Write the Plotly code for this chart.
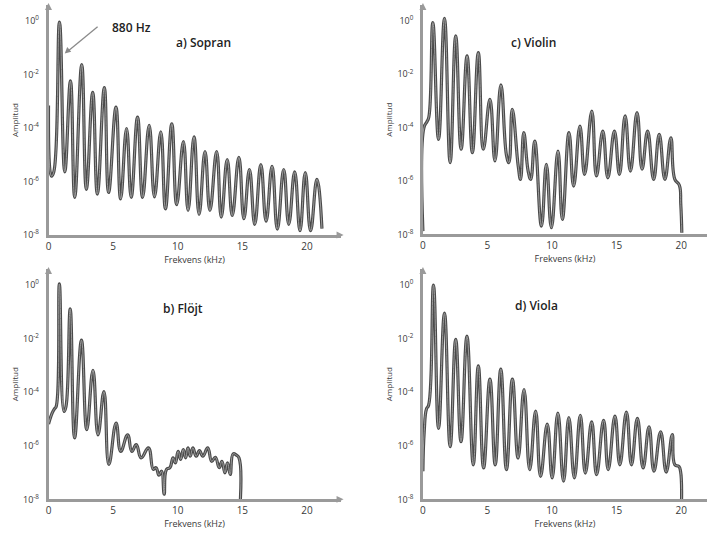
import plotly.graph_objects as go

# ---- data: frequency (kHz) and log10(amplitude) at peaks / troughs ----
sopran_khz = [0.00, 0.23, 0.41, 0.85, 1.26, 1.70, 2.03, 2.57, 2.93, 3.42, 3.78, 4.32, 4.65, 5.22, 5.58,
              6.04, 6.40, 6.89, 7.28, 7.79, 8.20, 8.69, 9.05, 9.54, 9.92, 10.44, 10.80, 11.26, 11.65,
              12.11, 12.49, 13.01, 13.37, 13.83, 14.22, 14.73, 15.12, 15.55, 15.96, 16.43, 16.84,
              17.30, 17.71, 18.20, 18.59, 19.05, 19.46, 19.87, 20.28, 20.77, 21.16]
sopran_log = [-3.16, -5.80, -5.64, -0.04, -5.64, -2.24, -6.59, -1.63, -6.29, -2.67, -6.47, -2.49, -6.41,
              -3.22, -6.65, -4.02, -6.59, -3.59, -6.59, -3.90, -6.57, -4.14, -7.02, -3.84, -6.86, -4.51,
              -7.08, -4.33, -7.23, -4.88, -7.08, -4.88, -7.33, -5.18, -7.27, -5.10, -7.39, -5.55, -7.60,
              -5.37, -7.48, -5.43, -7.78, -5.55, -7.60, -5.64, -7.84, -5.67, -7.84, -5.92, -7.76]

flojt_khz = [0.00, 0.28, 0.46, 0.59, 0.84, 1.20, 1.35, 1.68, 2.02, 2.55, 2.96, 3.44, 3.83, 4.29, 4.67,
             5.23, 5.59, 6.12, 6.45, 6.79, 7.17, 7.73, 8.11, 8.32, 8.55, 8.75, 8.95, 9.13, 9.39, 9.64,
             9.82, 10.03, 10.23, 10.43, 10.61, 10.79, 10.97, 11.17, 11.43, 11.68, 11.94, 12.32, 12.63,
             12.91, 13.21, 13.42, 13.65, 13.85, 14.06, 14.29, 14.54, 14.74, 14.85]
flojt_log = [-5.19, -4.78, -4.62, -4.54, 0.04, -4.72, -4.54, -0.89, -5.71, -2.06, -5.40, -3.18, -5.59,
             -3.98, -6.70, -5.15, -6.21, -5.59, -6.21, -5.96, -6.45, -6.08, -6.88, -6.82, -7.10, -6.95,
             -7.81, -6.88, -6.82, -6.45, -6.64, -6.21, -6.51, -6.14, -6.45, -6.08, -6.39, -6.08, -6.39,
             -6.18, -6.39, -6.08, -6.58, -6.43, -6.82, -6.58, -7.01, -6.64, -7.07, -6.30, -6.35, -6.45,
             -8.00]

violin_khz = [0.00, 0.08, 0.31, 0.46, 0.77, 1.21, 1.67, 2.11, 2.54, 2.96, 3.42, 3.83, 4.29, 4.68, 5.19,
              5.58, 6.04, 6.48, 6.66, 6.92, 7.38, 7.56, 7.81, 8.15, 8.35, 8.66, 9.18, 9.56, 9.95, 10.46,
              10.80, 11.31, 11.67, 12.16, 12.52, 13.08, 13.44, 13.93, 14.32, 14.83, 15.22, 15.66, 16.07,
              16.58, 16.97, 17.40, 17.87, 18.30, 18.74, 19.20, 19.51, 19.85, 19.97, 20.05]
violin_log = [-7.88, -4.00, -3.78, -3.60, -0.06, -4.44, 0.10, -5.31, -0.56, -4.81, -1.31, -4.94, -1.19,
              -4.81, -2.94, -5.25, -2.40, -5.06, -5.31, -3.31, -5.44, -5.94, -4.19, -5.63, -5.94, -4.50,
              -7.69, -5.38, -7.75, -4.88, -7.44, -4.19, -6.19, -3.94, -5.75, -3.38, -5.81, -4.13, -5.88,
              -4.13, -5.75, -3.56, -5.63, -3.44, -5.56, -4.13, -5.94, -4.25, -5.94, -4.38, -5.94, -6.15,
              -6.88, -7.94]

viola_khz = [0.00, 0.10, 0.28, 0.44, 0.82, 1.21, 1.67, 2.11, 2.54, 2.95, 3.41, 3.90, 4.29, 4.70, 5.19,
             5.60, 6.03, 6.47, 6.93, 7.37, 7.83, 8.27, 8.73, 9.11, 9.63, 10.01, 10.45, 10.89, 11.30,
             11.73, 12.19, 12.58, 13.07, 13.45, 13.99, 14.35, 14.87, 15.25, 15.76, 16.15, 16.61, 17.05,
             17.51, 17.89, 18.41, 18.84, 19.31, 19.51, 19.82, 19.95, 20.03]
viola_log = [-6.95, -5.48, -4.62, -4.49, 0.00, -5.35, -1.05, -6.03, -2.03, -5.85, -1.91, -6.71, -3.02,
             -6.83, -3.51, -6.71, -3.14, -6.89, -3.51, -6.46, -3.90, -6.89, -4.71, -7.14, -5.19, -7.20,
             -4.78, -7.32, -4.95, -7.20, -4.86, -7.02, -5.11, -7.08, -5.05, -6.89, -4.89, -6.71, -4.74,
             -6.71, -4.98, -6.83, -5.29, -6.95, -5.48, -6.98, -5.58, -6.71, -6.77, -6.95, -8.00]

panel_titles = ["a) Sopran", "b) Flöjt", "c) Violin", "d) Viola"]
x_ticks = [0, 5, 10, 15, 20]
y_tick_exps = [0, -2, -4, -6, -8]
x_title = "Frekvens (kHz)"
y_title = "Amplitud"
marker_text = "880 Hz"

# ---- layout geometry ----
W, H = 707, 536
LINE = "#4a4a4a"
CORE = "#9c9c9c"
AXC = "#9a9a9a"
TXT = "#3a3a3a"
FONT = "Open Sans"


def px(x):
    return x / W


def py(y):
    return 1 - y / H


panels = [
    # (khz, log, axis id, x domain, y domain, x range)
    (sopran_khz, sopran_log, 1, [px(45.7), px(339)], [py(237.7), py(5)], [0, 22.6]),
    (flojt_khz, flojt_log, 2, [px(45.7), px(339)], [py(505), py(272)], [0, 22.6]),
    (violin_khz, violin_log, 3, [px(421.7), 1.0], [py(237), py(5)], [0, 22.0]),
    (viola_khz, viola_log, 4, [px(421.7), 1.0], [py(505), py(272)], [0, 22.0]),
]

fig = go.Figure()
layout = dict(
    width=W, height=H, margin=dict(l=0, r=0, t=0, b=0),
    paper_bgcolor="white", plot_bgcolor="white", showlegend=False,
    font=dict(family=FONT, color=TXT),
)
annotations = []
shapes = []

for khz, lg, i, xd, yd, xr in panels:
    sfx = "" if i == 1 else str(i)
    amp = [10 ** v for v in lg]
    fig.add_trace(go.Scatter(
        x=khz, y=amp, mode="lines",
        line=dict(color=LINE, width=3.2, shape="spline", smoothing=1.3),
        xaxis="x" + sfx, yaxis="y" + sfx, hoverinfo="skip",
    ))
    fig.add_trace(go.Scatter(
        x=khz, y=amp, mode="lines",
        line=dict(color=CORE, width=1.0, shape="spline", smoothing=1.3),
        xaxis="x" + sfx, yaxis="y" + sfx, hoverinfo="skip",
    ))
    layout["xaxis" + sfx] = dict(
        domain=xd, range=xr, anchor="y" + sfx, showgrid=False, zeroline=False,
        showline=True, linecolor=AXC, linewidth=2.5, ticks="",
        tickvals=x_ticks, ticktext=[str(t) for t in x_ticks],
        tickfont=dict(size=10, color=TXT, family=FONT),
        title=dict(text=x_title, font=dict(size=9, color=TXT, family=FONT), standoff=2),
    )
    layout["yaxis" + sfx] = dict(
        domain=yd, type="log", range=[-8, 0.6], anchor="x" + sfx, showgrid=False,
        zeroline=False, showline=True, linecolor=AXC, linewidth=2.5, ticks="",
        tickvals=[10 ** e for e in y_tick_exps],
        ticktext=["10<sup>%d</sup>" % e for e in y_tick_exps],
        tickfont=dict(size=9, color=TXT, family=FONT), ticklabelstandoff=5,
        title=dict(text=y_title, font=dict(size=8, color=TXT, family=FONT), standoff=4),
    )
    # arrow heads at the axis ends (drawn as small triangles)
    x0 = xd[0] * W
    ytop = (1 - yd[1]) * H
    shapes.append(dict(type="path", xref="paper", yref="paper",
                       path="M %f %f L %f %f L %f %f Z" % (px(x0), py(ytop - 2), px(x0 - 3.5), py(ytop + 5),
                                                           px(x0 + 3.5), py(ytop + 5)),
                       fillcolor=AXC, line=dict(width=0)))
    if xd[1] < 0.99:
        xend = xd[1] * W
        ybot = (1 - yd[0]) * H
        shapes.append(dict(type="path", xref="paper", yref="paper",
                           path="M %f %f L %f %f L %f %f Z" % (px(xend + 3), py(ybot), px(xend - 4), py(ybot - 3.5),
                                                               px(xend - 4), py(ybot + 3.5)),
                           fillcolor=AXC, line=dict(width=0)))

title_pos = {"a) Sopran": (172, 32), "b) Flöjt": (159, 312),
             "c) Violin": (557, 32), "d) Viola": (559, 309)}
for t in panel_titles:
    tx, ty = title_pos[t]
    annotations.append(dict(x=px(tx), y=py(ty), xref="paper", yref="paper", text=t,
                            showarrow=False, font=dict(size=12, color="#222", family=FONT,
                                                       weight=600)))

annotations.append(dict(x=px(107), y=py(17), xref="paper", yref="paper", text=marker_text,
                        showarrow=False, font=dict(size=12, color="#222", family=FONT, weight=600)))
# pointer from the label to the fundamental peak
shapes.append(dict(type="line", xref="paper", yref="paper", x0=px(95), y0=py(27), x1=px(66), y1=py(51),
                   line=dict(color="#8a8a8a", width=1.3)))
shapes.append(dict(type="path", xref="paper", yref="paper",
                   path="M %f %f L %f %f L %f %f Z" % (px(62), py(54), px(64.5), py(47.5), px(68.5), py(52.3)),
                   fillcolor="#8a8a8a", line=dict(width=0)))

layout["annotations"] = annotations
layout["shapes"] = shapes
fig.update_layout(**layout)
fig.write_html("out.html")
